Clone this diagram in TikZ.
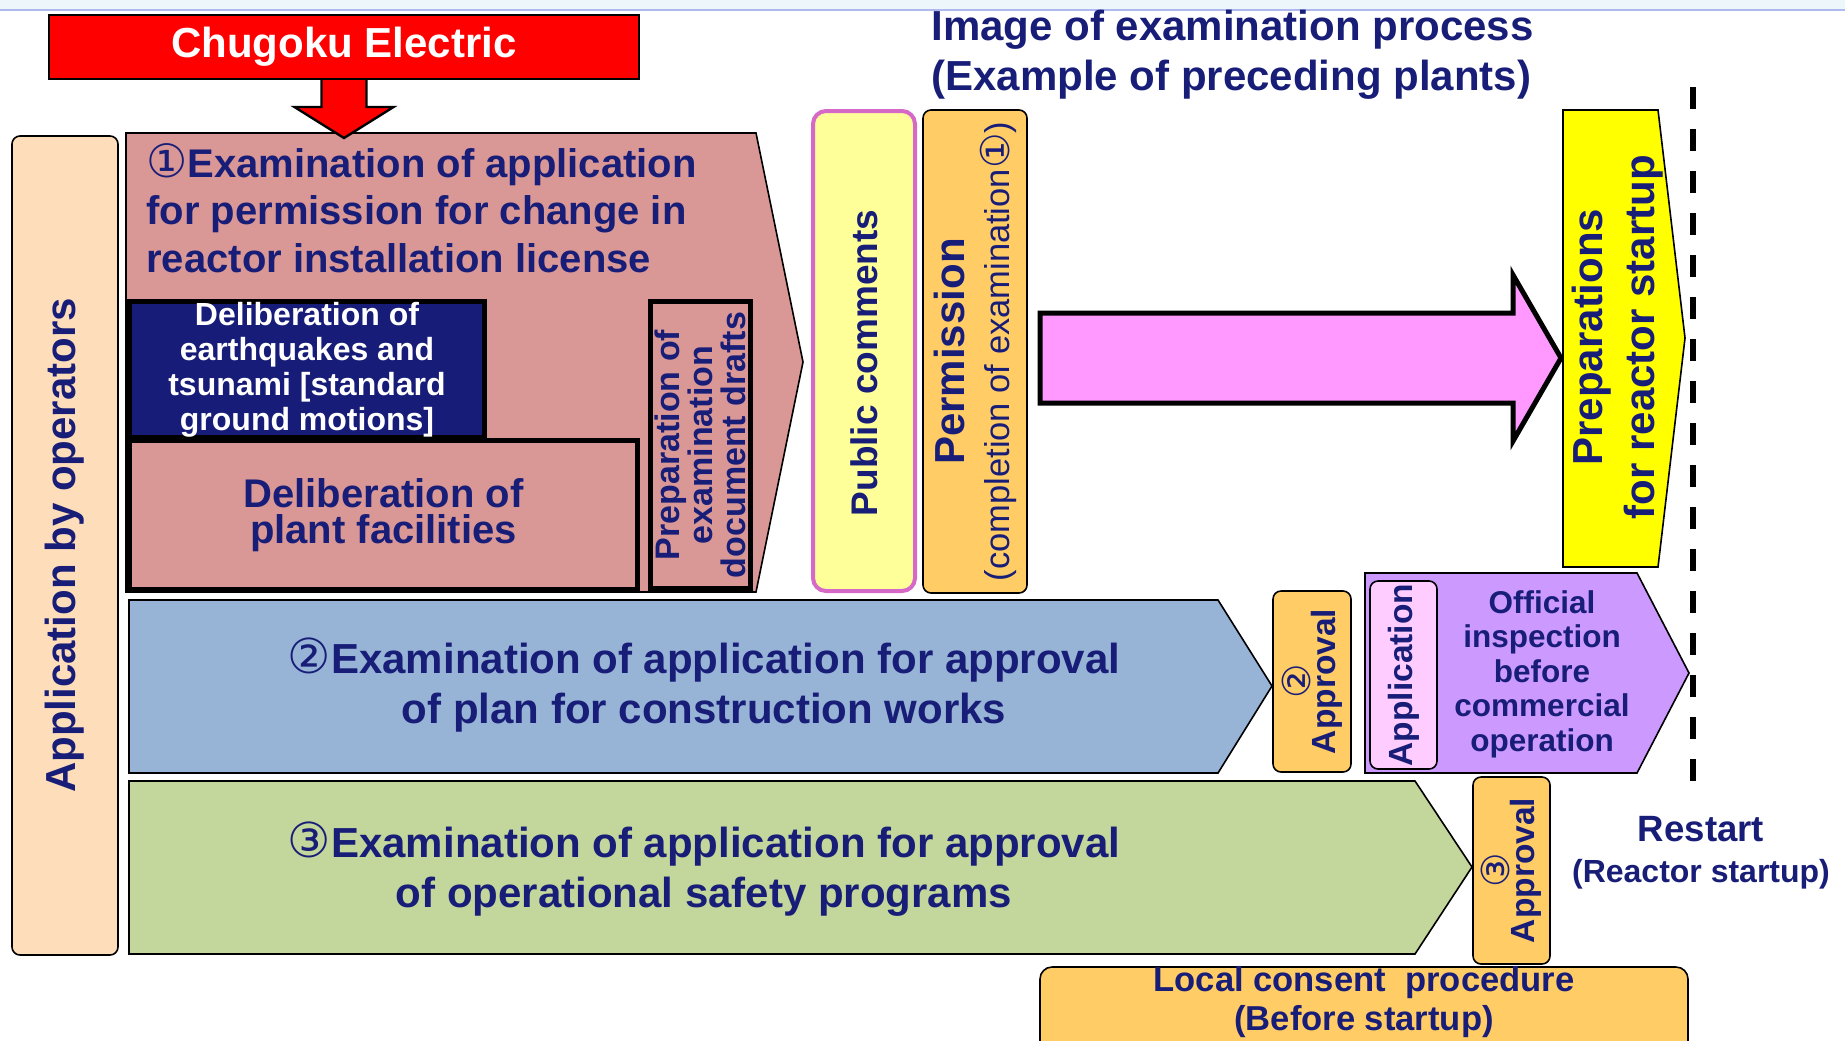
\documentclass[tikz,border=0pt]{standalone}
\usepackage{fontspec}
\setmainfont{Liberation Sans}
\newfontfamily\zifferfont{DejaVu Sans}
\usetikzlibrary{calc}
\newcommand{\pixelmass}{0.5pt}
\newcommand{\schrift}[2]{\fontsize{#1}{#2}\selectfont}
\newcommand{\ziffer}[1]{\scalebox{1.15}{\zifferfont\mdseries #1}}
\newcommand{\eng}{\lineskiplimit=-20pt\relax}

\definecolor{navytext}{RGB}{24,30,120}
\definecolor{elecred}{RGB}{255,0,0}
\definecolor{peach}{RGB}{253,221,186}
\definecolor{exampink}{RGB}{217,151,149}
\definecolor{navybox}{RGB}{22,28,120}
\definecolor{commentyellow}{RGB}{255,255,153}
\definecolor{commentrim}{RGB}{214,104,200}
\definecolor{approvalorange}{RGB}{255,204,102}
\definecolor{arrowpink}{RGB}{255,153,255}
\definecolor{startyellow}{RGB}{255,255,0}
\definecolor{laneblue}{RGB}{151,180,215}
\definecolor{lanegreen}{RGB}{195,214,155}
\definecolor{inspectpurple}{RGB}{204,153,255}
\definecolor{applypink}{RGB}{255,204,255}
\definecolor{topband}{RGB}{236,246,251}
\definecolor{topline}{RGB}{176,184,240}

\begin{document}
\begin{tikzpicture}[
  x=\pixelmass, y=-\pixelmass,
  every node/.style={text=navytext},
  box/.style = {draw, line width=0.8pt, inner sep=0pt},
  roundbox/.style = {box, rounded corners=4pt},
  heavybox/.style = {draw, line width=2.5pt, inner sep=0pt},
  turned/.style = {rotate=90, align=center},
  lane/.style = {draw, line width=0.8pt},
  fatarrow/.style = {draw, line width=2.5pt, fill=arrowpink}
  ]
	\useasboundingbox (0,0) rectangle (1845,1040);
	\clip (0,0) rectangle (1845,1040);

	\fill[topband] (0,0) rectangle (1845,10);
	\draw[topline, line width=1pt] (0,10) -- (1845,10);

	% operator side
	\node[box, fill=elecred, line width=1.2pt, minimum width=295pt, minimum height=32pt, text=white, font=\schrift{21}{25}\bfseries] (chugoku) at (344,47) {Chugoku Electric};
	\node[roundbox, turned, fill=peach, minimum width=409.5pt, minimum height=53pt, font=\schrift{21}{25}\bfseries] (operators) at (65,545.5) {Application by operators};

	\node[anchor=base west, inner sep=0pt, align=left, font=\schrift{21}{25}\bfseries] (title) at (931,90) {Image of examination process\\(Example of preceding plants)};

	% examination 1
	\draw[lane, fill=exampink] (126,133) -- (756,133) -- (803,362) -- (756,592) -- (126,592) -- cycle;
	\node[anchor=base west, inner sep=0pt, align=left, font=\schrift{20}{23.75}\bfseries] (exam1) at (146,272) {\ziffer{①}Examination of application\\for permission for change in\\reactor installation license};
	\node[heavybox, fill=exampink, minimum width=254pt, minimum height=74.5pt, align=center, font=\schrift{20}{18}\bfseries] (plant) at (383.5,515) {Deliberation of\\plant facilities};
	\node[heavybox, fill=navybox, minimum width=177.5pt, minimum height=68pt, align=center, text=white, font=\schrift{16}{17.5}\bfseries] (quake) at (307,369.5) {Deliberation of\\earthquakes and\\tsunami [standard\\ground motions]};
	\node[heavybox, turned, fill=exampink, minimum width=143.5pt, minimum height=50pt, font=\schrift{17}{16.5}\bfseries] (drafts) at (700.5,445) {Preparation of\\examination\\document drafts};

	\coordinate (@drop) at (344,138);
	\draw[box, line width=1.2pt, fill=elecred] ($(chugoku.south)+(-22.5,0)$) -- ($(@drop)+(-22.5,-31)$) -- ++(-27,0) -- (@drop) -- ++(49.5,-31) -- ++(-27,0) -- ($(chugoku.south)+(22.5,0)$);

	\node[draw=commentrim, line width=2pt, rounded corners=6.5pt, turned, fill=commentyellow, inner sep=0pt, minimum width=240pt, minimum height=51pt, font=\schrift{18.5}{22}\bfseries] (comments) at (864,351) {Public comments\hspace*{12pt}};
	\node[roundbox, turned, fill=approvalorange, minimum width=241.5pt, minimum height=52pt, font=\schrift{21}{22.5}\bfseries] (permission) at (975,351.5) {Permission\\{\mdseries\schrift{17.25}{22.5}(completion of examination\ziffer{①})}};

	% startup
	\draw[lane, fill=startyellow] (1563,110) -- (1658,110) -- (1685,338) -- (1658,567) -- (1563,567) -- cycle;
	\node[turned, font=\schrift{21}{26}\bfseries] (startup) at (1618,337) {Preparations\\for reactor startup};

	\coordinate (@tail) at (1040,358);
	\coordinate (@tip) at (1561,358);
	\draw[fatarrow] ($(@tail)+(0,-45)$) -- ($(@tip)+(-48,-45)$) -- ($(@tip)+(-48,-83)$) -- (@tip) -- ($(@tip)+(-48,83)$) -- ($(@tip)+(-48,45)$) -- ($(@tail)+(0,45)$) -- cycle;

	\draw[line width=3pt, dash pattern=on 11pt off 10pt] (1693,87) -- (1693,783);

	% examination 2
	\draw[lane, fill=laneblue] (129,600) -- (1218,600) -- (1272,686) -- (1218,773) -- (129,773) -- cycle;
	\node[align=center, font=\schrift{21}{25}\bfseries] (exam2) at (704,685) {\ziffer{②}Examination of application for approval\\of plan for construction works};
	\node[roundbox, turned, fill=approvalorange, minimum width=90.5pt, minimum height=39pt, font=\schrift{16.75}{12.5}\bfseries\eng] (approval2) at (1312,681.5) {\ziffer{②}\\Approval};

	\draw[lane, fill=inspectpurple] (1365,573) -- (1637,573) -- (1689,673) -- (1637,773) -- (1365,773) -- cycle;
	\node[roundbox, turned, fill=applypink, minimum width=94pt, minimum height=33.5pt, font=\schrift{16.75}{20}\bfseries] (apply) at (1403.5,675) {Application};
	\node[align=center, font=\schrift{15.75}{17.25}\bfseries] (inspection) at (1542,674) {Official\\inspection\\before\\commercial\\operation};

	% examination 3
	\draw[lane, fill=lanegreen] (129,781) -- (1415,781) -- (1472,867) -- (1415,954) -- (129,954) -- cycle;
	\node[align=center, font=\schrift{21}{25}\bfseries] (exam3) at (704,869) {\ziffer{③}Examination of application for approval\\of operational safety programs};
	\node[roundbox, turned, fill=approvalorange, minimum width=93.5pt, minimum height=38.5pt, font=\schrift{16.75}{12.5}\bfseries\eng] (approval3) at (1511.5,870.5) {\ziffer{③}\\Approval};

	\node[align=center, font=\schrift{18.3}{20.5}\bfseries] (restart) at (1701,853) {Restart\\{\schrift{16}{20.5}(Reactor startup)}};

	\draw[lane, rounded corners=6pt, fill=approvalorange] (1040,1080) rectangle (1688,967);
	\node[align=center, font=\schrift{17.3}{19.5}\bfseries] (consent) at (1364,1002) {Local consent\ \ procedure\\(Before startup)};

\end{tikzpicture}
\end{document}
